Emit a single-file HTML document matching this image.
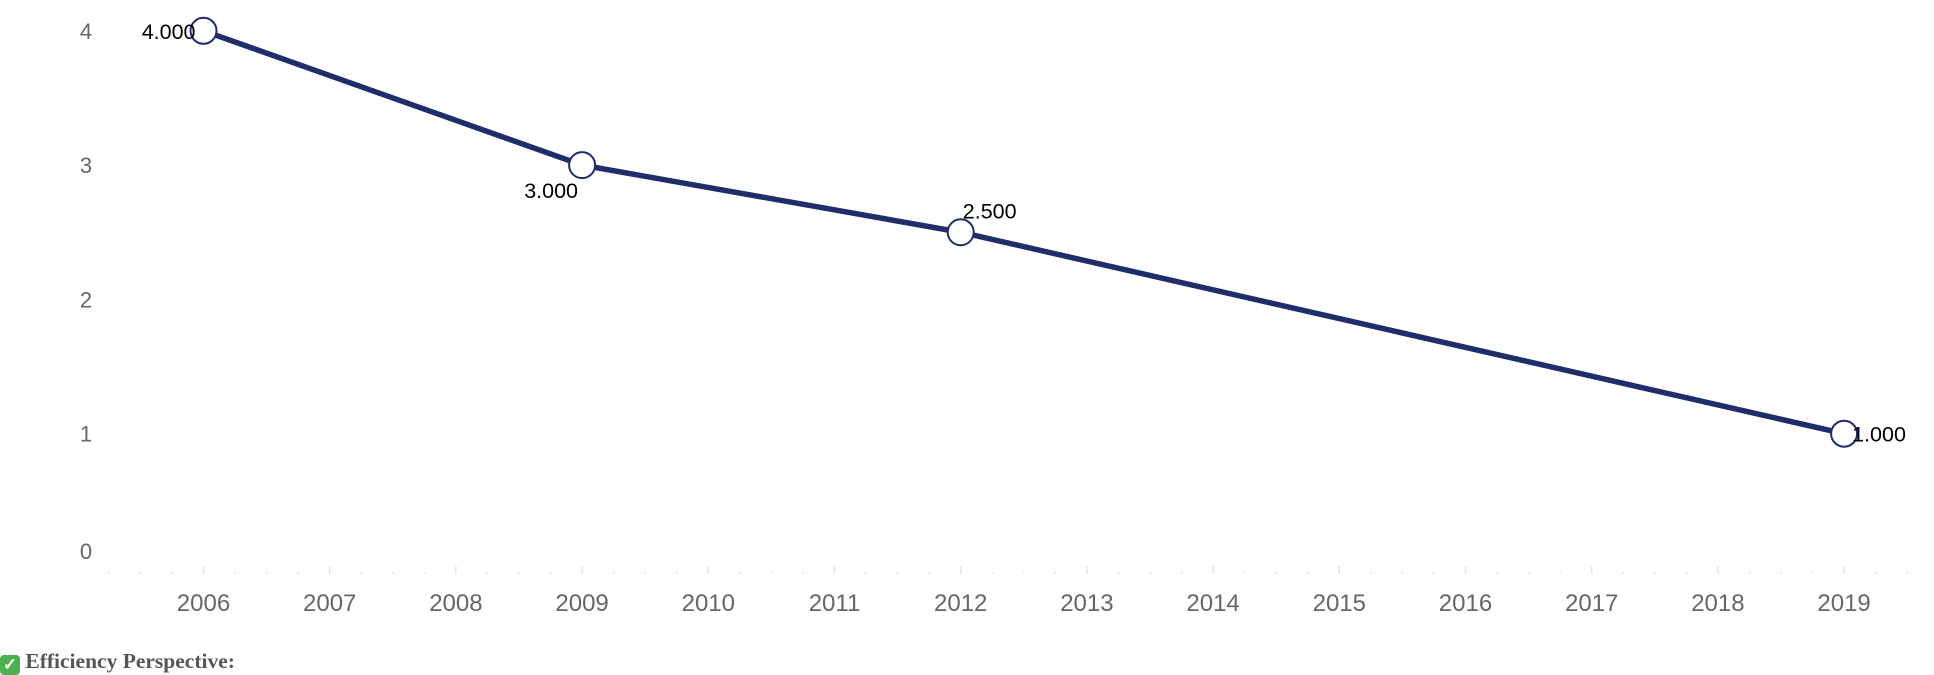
<!DOCTYPE html>
<html><head><meta charset="utf-8"><style>
body{margin:0;width:1934px;height:672px;background:#fff;overflow:hidden;position:relative;font-family:"Liberation Sans",sans-serif}
#foot{position:absolute;left:0;top:649px;font-family:"Liberation Serif",serif;font-weight:bold;font-size:21.5px;color:#555;white-space:nowrap}
#foot span{display:inline-block;width:20px;height:20px;line-height:20px;text-align:center;color:#fff;background:#4caf50;border-radius:4px;font-size:17px;vertical-align:-2px}
</style></head><body>
<svg id="chart" width="1934" height="650" style="position:absolute;left:0;top:0"></svg>
<div id="foot"><span>✓</span> Efficiency Perspective:</div>
<script>
const years=[2006,2009,2012,2019];
const values=[4,3,2.5,1];
const valueLabels=["4.000","3.000","2.500","1.000"];
const xTicks=[2006,2007,2008,2009,2010,2011,2012,2013,2014,2015,2016,2017,2018,2019];
const yTicks=[0,1,2,3,4];
const NS="http://www.w3.org/2000/svg";
const svg=document.getElementById('chart');
const x=v=>203.5+(v-2006)*126.2;
const y=v=>568-v*134.3;
function mk(t,a){const e=document.createElementNS(NS,t);for(const k in a)e.setAttribute(k,a[k]);svg.appendChild(e);return e;}
yTicks.forEach(t=>{const e=mk('text',{x:86,y:(t===0?y(t)-17:y(t))+8,'text-anchor':'middle','font-size':22,fill:'#666'});e.textContent=t;

});
xTicks.forEach(t=>{const l=mk('line',{x1:x(t),x2:x(t),y1:566,y2:574,stroke:'#e4e4e4','stroke-width':1.5});


for(let q=1;q<4;q++){if(t<2019||q<3){const d=mk('line',{x1:x(t)+q*126.2/4,x2:x(t)+q*126.2/4,y1:572,y2:574,stroke:'#e4e4e4','stroke-width':1.5});

}}
const e=mk('text',{x:x(t),y:611,'text-anchor':'middle','font-size':24,fill:'#666'});e.textContent=t;

});
[-3,-2,-1].forEach(q=>{const d=mk('line',{x1:x(2006)+q*126.2/4,x2:x(2006)+q*126.2/4,y1:572,y2:574,stroke:'#e4e4e4','stroke-width':1.5});

});
const p=mk('polyline',{points:years.map((yr,i)=>x(yr)+','+y(values[i])).join(' '),fill:'none',stroke:'#1f2d6b','stroke-width':5.5});


const off=[[-8,8,'end'],[-31,33,'middle'],[29,-14,'middle'],[8,8,'start']];
years.forEach((yr,i)=>{const c=mk('circle',{cx:x(yr),cy:y(values[i]),r:13,fill:'#fff',stroke:'#1f2d6b','stroke-width':2});


const t=mk('text',{x:x(yr)+off[i][0],y:y(values[i])+off[i][1],'text-anchor':off[i][2],'font-size':21.5,fill:'#000'});t.textContent=valueLabels[i];

});
</script>
</body></html>
